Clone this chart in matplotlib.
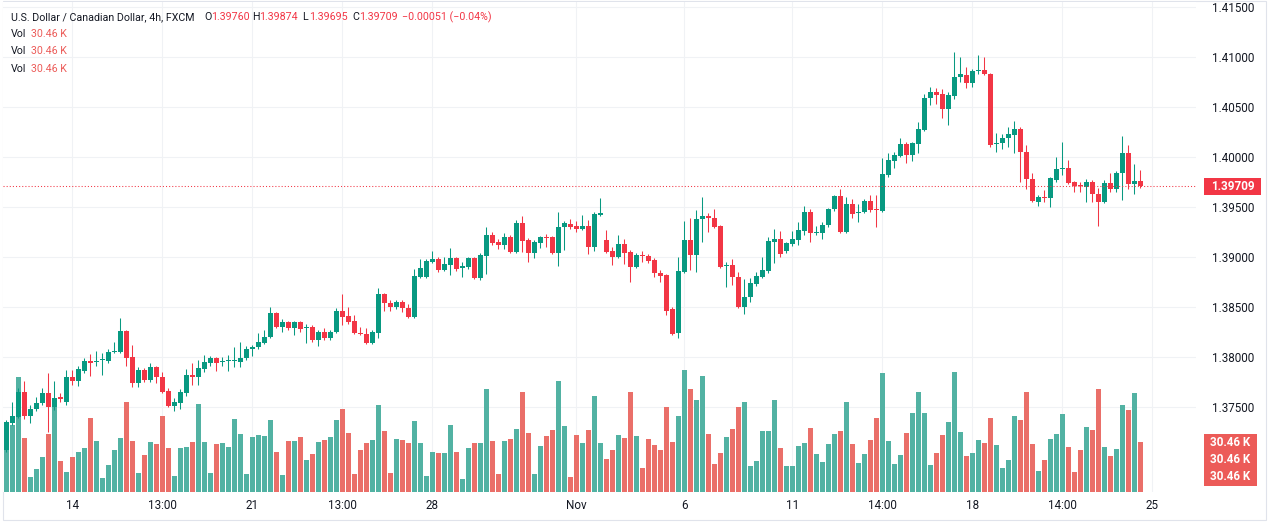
import numpy as np
import matplotlib
matplotlib.use("Agg")
import matplotlib.pyplot as plt
from matplotlib.patches import Rectangle
from matplotlib.transforms import blended_transform_factory

plt.rcParams['font.family'] = ['Roboto', 'DejaVu Sans']

# ---------------- data ----------------
title = "U.S. Dollar / Canadian Dollar, 4h, FXCM"

opens = [
    1.3707, 1.3734, 1.3740, 1.3765, 1.3741, 1.3748, 1.3754, 1.3764, 1.3750, 1.3760,
    1.3755, 1.3780, 1.3776, 1.3786, 1.3796, 1.3795, 1.3797, 1.3796, 1.3805, 1.3805,
    1.3826, 1.3800, 1.3774, 1.3787, 1.3777, 1.3790, 1.3780, 1.3766, 1.3751, 1.3754,
    1.3764, 1.3782, 1.3780, 1.3788, 1.3794, 1.3799, 1.3795, 1.3796, 1.3796, 1.3795,
    1.3799, 1.3808, 1.3810, 1.3814, 1.3820, 1.3844, 1.3830, 1.3835, 1.3829, 1.3835,
    1.3829, 1.3830, 1.3817, 1.3825, 1.3819, 1.3825, 1.3846, 1.3841, 1.3836, 1.3824,
    1.3823, 1.3814, 1.3824, 1.3863, 1.3854, 1.3850, 1.3855, 1.3849, 1.3840, 1.3880,
    1.3880, 1.3895, 1.3898, 1.3887, 1.3892, 1.3899, 1.3889, 1.3890, 1.3899, 1.3879,
    1.3901, 1.3922, 1.3915, 1.3912, 1.3920, 1.3905, 1.3934, 1.3917, 1.3904, 1.3914,
    1.3920, 1.3920, 1.3904, 1.3930, 1.3933, 1.3931, 1.3928, 1.3931, 1.3910, 1.3942,
    1.3917, 1.3906, 1.3900, 1.3913, 1.3905, 1.3890, 1.3902, 1.3901, 1.3897, 1.3884,
    1.3882, 1.3848, 1.3824, 1.3885, 1.3917, 1.3902, 1.3938, 1.3941, 1.3939, 1.3931,
    1.3891, 1.3892, 1.3880, 1.3850, 1.3860, 1.3873, 1.3880, 1.3886, 1.3915, 1.3918,
    1.3906, 1.3913, 1.3917, 1.3926, 1.3945, 1.3924, 1.3924, 1.3932, 1.3948, 1.3961,
    1.3925, 1.3953, 1.3944, 1.3945, 1.3956, 1.3948, 1.3946, 1.3982, 1.3996, 1.4001,
    1.4013, 1.4002, 1.4013, 1.4027, 1.4059, 1.4065, 1.4063, 1.4048, 1.4061, 1.4080,
    1.4082, 1.4074, 1.4086, 1.4087, 1.4083, 1.4013, 1.4014, 1.4019, 1.4022, 1.4028,
    1.4005, 1.3978, 1.3955, 1.3960, 1.3959, 1.3977, 1.3988, 1.3989, 1.3975, 1.3972,
    1.3970, 1.3975, 1.3963, 1.3955, 1.3974, 1.3968, 1.3984, 1.4004, 1.3973, 1.39760,
]
highs = [
    1.3737, 1.3755, 1.3769, 1.3776, 1.3752, 1.3760, 1.3769, 1.3784, 1.3776, 1.3764,
    1.3787, 1.3787, 1.3791, 1.3799, 1.3803, 1.3806, 1.3804, 1.3808, 1.3815, 1.3839,
    1.3827, 1.3812, 1.3790, 1.3789, 1.3794, 1.3791, 1.3785, 1.3769, 1.3759, 1.3768,
    1.3788, 1.3794, 1.3797, 1.3802, 1.3801, 1.3800, 1.3800, 1.3802, 1.3810, 1.3815,
    1.3811, 1.3812, 1.3824, 1.3827, 1.3850, 1.3845, 1.3838, 1.3836, 1.3836, 1.3836,
    1.3833, 1.3832, 1.3827, 1.3829, 1.3827, 1.3849, 1.3863, 1.3850, 1.3842, 1.3830,
    1.3829, 1.3827, 1.3869, 1.3864, 1.3857, 1.3857, 1.3857, 1.3853, 1.3888, 1.3898,
    1.3898, 1.3906, 1.3900, 1.3900, 1.3909, 1.3900, 1.3895, 1.3900, 1.3900, 1.3904,
    1.3930, 1.3925, 1.3918, 1.3924, 1.3922, 1.3937, 1.3941, 1.3919, 1.3917, 1.3921,
    1.3923, 1.3921, 1.3945, 1.3936, 1.3938, 1.3936, 1.3942, 1.3937, 1.3945, 1.3959,
    1.3927, 1.3910, 1.3922, 1.3918, 1.3907, 1.3904, 1.3906, 1.3903, 1.3899, 1.3887,
    1.3883, 1.3850, 1.3900, 1.3936, 1.3939, 1.3947, 1.3960, 1.3944, 1.3948, 1.3932,
    1.3895, 1.3898, 1.3885, 1.3878, 1.3879, 1.3885, 1.3900, 1.3920, 1.3928, 1.3926,
    1.3915, 1.3926, 1.3935, 1.3951, 1.3948, 1.3931, 1.3935, 1.3949, 1.3962, 1.3968,
    1.3960, 1.3958, 1.3953, 1.3958, 1.3962, 1.3962, 1.3999, 1.4004, 1.4005, 1.4019,
    1.4015, 1.4015, 1.4035, 1.4063, 1.4070, 1.4069, 1.4068, 1.4065, 1.4105, 1.4100,
    1.4090, 1.4088, 1.4102, 1.4100, 1.4084, 1.4024, 1.4023, 1.4030, 1.4036, 1.4030,
    1.4012, 1.3984, 1.3962, 1.3967, 1.3980, 1.4000, 1.4015, 1.3997, 1.3976, 1.3975,
    1.3978, 1.3977, 1.3969, 1.3977, 1.3984, 1.3986, 1.4021, 1.4012, 1.3993, 1.39874,
]
lows = [
    1.3705, 1.3732, 1.3739, 1.3738, 1.3734, 1.3746, 1.3752, 1.3725, 1.3747, 1.3755,
    1.3752, 1.3772, 1.3771, 1.3784, 1.3781, 1.3791, 1.3782, 1.3794, 1.3804, 1.3804,
    1.3791, 1.3770, 1.3770, 1.3775, 1.3775, 1.3774, 1.3764, 1.3750, 1.3746, 1.3748,
    1.3761, 1.3772, 1.3772, 1.3785, 1.3791, 1.3786, 1.3791, 1.3786, 1.3790, 1.3790,
    1.3797, 1.3801, 1.3808, 1.3813, 1.3819, 1.3829, 1.3825, 1.3827, 1.3822, 1.3825,
    1.3814, 1.3815, 1.3811, 1.3817, 1.3817, 1.3824, 1.3832, 1.3833, 1.3823, 1.3822,
    1.3813, 1.3813, 1.3819, 1.3846, 1.3846, 1.3848, 1.3845, 1.3839, 1.3839, 1.3879,
    1.3879, 1.3894, 1.3885, 1.3886, 1.3882, 1.3886, 1.3880, 1.3888, 1.3878, 1.3877,
    1.3883, 1.3912, 1.3908, 1.3908, 1.3904, 1.3904, 1.3905, 1.3895, 1.3899, 1.3909,
    1.3910, 1.3903, 1.3891, 1.3907, 1.3928, 1.3925, 1.3927, 1.3903, 1.3906, 1.3941,
    1.3904, 1.3892, 1.3899, 1.3893, 1.3875, 1.3889, 1.3895, 1.3894, 1.3880, 1.3875,
    1.3842, 1.3822, 1.3819, 1.3884, 1.3887, 1.3885, 1.3915, 1.3925, 1.3929, 1.3889,
    1.3870, 1.3872, 1.3849, 1.3843, 1.3855, 1.3871, 1.3879, 1.3884, 1.3894, 1.3900,
    1.3904, 1.3911, 1.3912, 1.3922, 1.3915, 1.3922, 1.3918, 1.3930, 1.3946, 1.3924,
    1.3924, 1.3939, 1.3935, 1.3944, 1.3945, 1.3930, 1.3945, 1.3980, 1.3989, 1.4000,
    1.3994, 1.3996, 1.4004, 1.4026, 1.4052, 1.4053, 1.4039, 1.4032, 1.4058, 1.4075,
    1.4069, 1.4070, 1.4083, 1.4082, 1.4010, 1.4005, 1.4008, 1.4010, 1.4004, 1.3975,
    1.3968, 1.3955, 1.3951, 1.3955, 1.3950, 1.3975, 1.3982, 1.3973, 1.3965, 1.3965,
    1.3955, 1.3955, 1.3931, 1.3954, 1.3965, 1.3965, 1.3957, 1.3968, 1.3963, 1.39695,
]
closes = [
    1.3735, 1.3741, 1.3765, 1.3741, 1.3748, 1.3754, 1.3764, 1.3750, 1.3759, 1.3758,
    1.3780, 1.3776, 1.3788, 1.3796, 1.3794, 1.3796, 1.3798, 1.3805, 1.3806, 1.3826,
    1.3799, 1.3774, 1.3787, 1.3777, 1.3790, 1.3780, 1.3765, 1.3751, 1.3755, 1.3765,
    1.3782, 1.3780, 1.3789, 1.3795, 1.3799, 1.3794, 1.3796, 1.3797, 1.3797, 1.3799,
    1.3808, 1.3810, 1.3815, 1.3820, 1.3844, 1.3830, 1.3835, 1.3829, 1.3835, 1.3828,
    1.3830, 1.3817, 1.3825, 1.3819, 1.3825, 1.3846, 1.3840, 1.3835, 1.3824, 1.3823,
    1.3814, 1.3825, 1.3863, 1.3854, 1.3850, 1.3855, 1.3849, 1.3840, 1.3881, 1.3889,
    1.3896, 1.3898, 1.3887, 1.3893, 1.3899, 1.3888, 1.3891, 1.3899, 1.3879, 1.3902,
    1.3922, 1.3914, 1.3912, 1.3920, 1.3905, 1.3934, 1.3916, 1.3904, 1.3915, 1.3920,
    1.3919, 1.3904, 1.3930, 1.3934, 1.3930, 1.3928, 1.3931, 1.3910, 1.3943, 1.3944,
    1.3905, 1.3900, 1.3913, 1.3904, 1.3890, 1.3902, 1.3901, 1.3896, 1.3884, 1.3881,
    1.3846, 1.3823, 1.3886, 1.3917, 1.3902, 1.3938, 1.3941, 1.3939, 1.3930, 1.3890,
    1.3892, 1.3880, 1.3850, 1.3860, 1.3874, 1.3881, 1.3887, 1.3916, 1.3918, 1.3903,
    1.3914, 1.3918, 1.3927, 1.3945, 1.3924, 1.3925, 1.3932, 1.3948, 1.3961, 1.3925,
    1.3953, 1.3943, 1.3945, 1.3956, 1.3947, 1.3947, 1.3983, 1.3997, 1.4002, 1.4013,
    1.4002, 1.4014, 1.4028, 1.4059, 1.4065, 1.4062, 1.4048, 1.4062, 1.4080, 1.4083,
    1.4074, 1.4086, 1.4087, 1.4083, 1.4012, 1.4014, 1.4019, 1.4023, 1.4028, 1.4005,
    1.3978, 1.3956, 1.3960, 1.3959, 1.3979, 1.3988, 1.3989, 1.3974, 1.3971, 1.3971,
    1.3975, 1.3963, 1.3955, 1.3974, 1.3968, 1.3984, 1.4004, 1.3973, 1.39760, 1.39709,
]
volumes_k = [
    42.9, 40.9, 70.5, 33.1, 9.2, 13.9, 21.2, 35.5, 54.1, 19.0,
    12.3, 21.2, 24.3, 26.8, 45.4, 31.3, 8.6, 16.3, 25.7, 33.1,
    55.0, 31.3, 11.4, 22.5, 30.4, 29.2, 46.6, 26.8, 9.6, 26.8,
    27.4, 30.4, 53.9, 30.4, 11.4, 29.2, 29.8, 27.4, 44.5, 35.5,
    10.8, 33.7, 34.7, 34.1, 43.9, 24.3, 10.2, 31.3, 31.3, 33.7,
    19.4, 23.5, 30.6, 31.7, 33.7, 43.9, 50.7, 36.2, 10.8, 25.5,
    29.8, 31.7, 53.1, 37.2, 11.4, 32.3, 31.7, 30.0, 43.3, 30.0,
    9.6, 24.5, 23.7, 23.7, 40.9, 24.5, 7.8, 26.8, 30.0, 30.0,
    62.9, 31.3, 10.8, 31.3, 32.3, 38.4, 61.1, 36.2, 10.8, 28.0,
    34.1, 37.8, 67.8, 40.2, 9.0, 34.7, 30.0, 37.8, 58.6, 30.0,
    20.0, 25.5, 34.7, 32.9, 61.1, 34.1, 14.7, 32.3, 28.6, 25.5,
    51.9, 30.6, 46.4, 74.6, 62.9, 56.2, 71.1, 35.3, 17.0, 23.7,
    33.5, 38.4, 51.9, 55.0, 15.7, 18.8, 37.2, 37.2, 56.2, 26.8,
    15.7, 15.7, 28.0, 29.8, 39.0, 23.1, 18.2, 29.2, 35.3, 37.2,
    55.0, 29.2, 17.6, 23.1, 31.7, 45.2, 72.7, 31.1, 17.0, 22.5,
    36.0, 48.2, 61.1, 48.2, 16.3, 23.7, 34.7, 42.7, 73.3, 36.6,
    21.9, 23.7, 31.7, 29.8, 45.2, 28.6, 14.5, 19.4, 46.4, 43.9,
    61.1, 29.2, 12.7, 19.4, 32.3, 35.3, 47.6, 27.4, 12.1, 25.5,
    39.6, 37.8, 62.9, 27.4, 21.9, 26.2, 53.1, 50.1, 60.5, 30.46,
]
time_tick_index = [11, 26, 41, 56, 71, 95, 113, 131, 146, 161, 176, 191]
time_tick_labels = ["14", "13:00", "21", "13:00", "28", "Nov", "6", "11",
                    "14:00", "18", "14:00", "25"]
price_ticks = [1.375, 1.380, 1.385, 1.390, 1.395, 1.400, 1.405, 1.410, 1.415]

# ---------------- style ----------------
UP = '#089981'
DOWN = '#F23645'
VOL_UP = '#52b2a3'
VOL_DOWN = '#ea6f69'
TXT = '#131722'
GRID = '#f0f2f5'

W, H = 1268, 523
fig = plt.figure(figsize=(W / 100, H / 100), dpi=100)
fig.patch.set_facecolor('white')

# plot area in pixels
px_l, px_r, px_t, px_b = 3, 1196, 2, 492
rect = [px_l / W, 1 - px_b / H, (px_r - px_l) / W, (px_b - px_t) / H]

ax = fig.add_axes(rect, zorder=1)
ax_v = fig.add_axes(rect, sharex=ax, zorder=2)
ax_c = fig.add_axes(rect, sharex=ax, sharey=ax, zorder=3)
for a in (ax_v, ax_c):
    a.patch.set_visible(False)
    a.axis('off')

o = np.array(opens); h = np.array(highs); l = np.array(lows); c = np.array(closes)
v = np.array(volumes_k)
x = np.arange(len(o))
up = c >= o

# limits
ax.set_xlim(-0.583, 198.25)
ax.set_ylim(1.3665, 1.4155)
ax_v.set_ylim(0, 300.4)

# grid + ticks
ax.set_yticks(price_ticks)
ax.set_yticklabels([f"{p:.5f}" for p in price_ticks])
ax.set_xticks(time_tick_index)
ax.set_xticklabels(time_tick_labels)
ax.yaxis.tick_right()
ax.tick_params(axis='y', length=0, pad=11.5, labelsize=8.4, labelcolor=TXT)
ax.tick_params(axis='x', length=0, pad=5, labelsize=8.4, labelcolor=TXT)
ax.grid(True, color=GRID, linewidth=0.8)
for s in ax.spines.values():
    s.set_visible(False)

# volume
ax_v.bar(x, v, width=0.83, color=np.where(up, VOL_UP, VOL_DOWN), linewidth=0)

# candles
col = np.where(up, UP, DOWN)
ax_c.vlines(x, l, h, colors=col, linewidth=0.75)
body_lo = np.minimum(o, c)
body_h = np.maximum(np.abs(c - o), 0.00009)
ax_c.bar(x, body_h, bottom=body_lo, width=0.7, color=col, linewidth=0)

# last price line
last = c[-1]
ax_c.axhline(last, color=DOWN, linewidth=0.75, linestyle=(0, (1, 2)))

# price label on axis
tp = blended_transform_factory(fig.transFigure, ax.transData)
box_h = 0.0017
ax.add_patch(Rectangle((1204 / W, last - box_h / 2), 57 / W, box_h, transform=tp,
                       facecolor=DOWN, edgecolor='none', clip_on=False, zorder=5))
ax.text(1232.5 / W, last, f"{last:.5f}", transform=tp, ha='center', va='center',
        color='white', fontsize=8.4, fontweight='bold', zorder=6, clip_on=False)

# volume labels (three stacked)
tv = blended_transform_factory(fig.transFigure, ax_v.transData)
vh = 10.6
last_v = v[-1]
for k in range(3):
    yc = last_v - k * vh
    ax_v.add_patch(Rectangle((1204 / W, yc - vh / 2), 53 / W, vh, transform=tv,
                             facecolor='#ec5b58', edgecolor='none', clip_on=False, zorder=5))
    ax_v.text(1230.5 / W, yc, f"{last_v:.2f} K", transform=tv, ha='center', va='center',
              color='white', fontsize=8.4, fontweight='bold', zorder=6, clip_on=False)

# header legend
def ftxt(px, py, s, color, size=7.7):
    fig.text(px / W, 1 - py / H, s, ha='left', va='center', color=color, fontsize=size)

chg = c[-1] - c[-2]
pct = chg / c[-2] * 100
ftxt(11, 17, title, TXT)
ftxt(204, 17, "O", TXT); ftxt(211, 17, f"{o[-1]:.5f}", DOWN)
ftxt(252, 17, "H", TXT); ftxt(259, 17, f"{h[-1]:.5f}", DOWN)
ftxt(302, 17, "L", TXT); ftxt(309, 17, f"{l[-1]:.5f}", DOWN)
ftxt(352, 17, "C", TXT); ftxt(359, 17, f"{c[-1]:.5f}", DOWN)
ftxt(402, 17, f"{chg:+.5f} ({pct:+.2f}%)".replace('-', '\u2212'), DOWN)
for yy in (34, 51, 69):
    ftxt(11, yy, "Vol", TXT)
    ftxt(31, yy, f"{last_v:.2f} K", '#ec5b58')

# outer frame
fig.add_artist(Rectangle((2.5 / W, 3.5 / H), 1263 / W, 519 / H, transform=fig.transFigure,
                         facecolor='none', edgecolor='#e0e3eb', linewidth=0.8))

fig.savefig('out.png', dpi=100)
